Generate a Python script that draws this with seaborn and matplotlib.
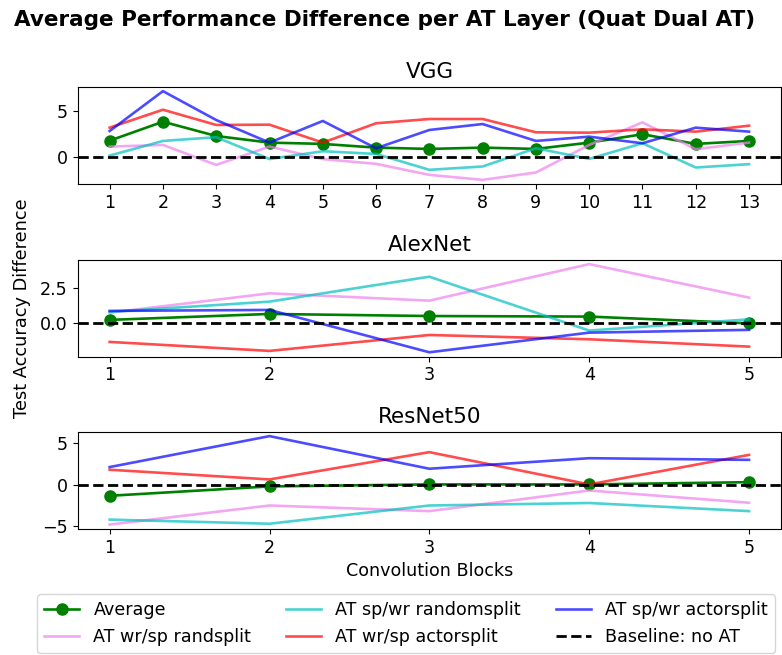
import matplotlib
matplotlib.use("Agg")
import matplotlib.pyplot as plt
import seaborn as sns
import pandas as pd

# Per-block accuracy differences against the no-AT baseline
vgg_blocks = list(range(1, 14))
vgg_average = [1.78, 3.82, 2.28, 1.57, 1.43, 1.03, 0.89, 1.03, 0.89, 1.57, 2.47, 1.43, 1.75]
vgg_wrsp_rand = [1.14, 1.32, -0.83, 1.14, -0.20, -0.72, -1.90, -2.44, -1.65, 1.32, 3.75, 0.86, 1.57]
vgg_spwr_rand = [0.17, 1.75, 2.15, -0.20, 0.64, 0.35, -1.36, -1.00, 0.96, -0.18, 1.50, -1.11, -0.75]
vgg_wrsp_actor = [3.18, 5.11, 3.47, 3.50, 1.57, 3.65, 4.11, 4.11, 2.68, 2.64, 3.00, 2.75, 3.39]
vgg_spwr_actor = [2.82, 7.11, 4.00, 1.57, 3.90, 0.96, 2.93, 3.57, 1.75, 2.21, 1.50, 3.18, 2.75]

alex_blocks = [1, 2, 3, 4, 5]
alex_average = [0.22, 0.65, 0.50, 0.46, -0.03]
alex_wrsp_rand = [0.74, 2.14, 1.61, 4.25, 1.83]
alex_spwr_rand = [0.80, 1.54, 3.34, -0.55, 0.26]
alex_wrsp_actor = [-1.37, -2.02, -0.87, -1.18, -1.71]
alex_spwr_actor = [0.87, 0.94, -2.12, -0.70, -0.50]

resnet_blocks = [1, 2, 3, 4, 5]
resnet_average = [-1.33, -0.20, 0.04, 0.04, 0.31]
resnet_wrsp_rand = [-4.80, -2.50, -3.18, -0.69, -2.17]
resnet_spwr_rand = [-4.20, -4.70, -2.50, -2.20, -3.18]
resnet_wrsp_actor = [1.81, 0.64, 3.93, 0.04, 3.60]
resnet_spwr_actor = [2.13, 5.86, 1.93, 3.20, 3.00]

model_names = ["VGG", "AlexNet", "ResNet50"]
series_labels = ["AT wr/sp randsplit", "AT sp/wr randomsplit",
                 "AT wr/sp actorsplit", "AT sp/wr actorsplit"]
series_colors = ["violet", "c", "red", "blue"]

models = [
    (vgg_blocks, vgg_average, [vgg_wrsp_rand, vgg_spwr_rand, vgg_wrsp_actor, vgg_spwr_actor]),
    (alex_blocks, alex_average, [alex_wrsp_rand, alex_spwr_rand, alex_wrsp_actor, alex_spwr_actor]),
    (resnet_blocks, resnet_average, [resnet_wrsp_rand, resnet_spwr_rand, resnet_wrsp_actor, resnet_spwr_actor]),
]

W, H = 782, 655
fig = plt.figure(figsize=(W / 100, H / 100), dpi=100)

# axes boxes in pixels: (top, bottom)
boxes = [(86.7, 184.3), (259.7, 356.7), (431.7, 529.0)]
left_px, right_px = 77.7, 781.0

axes = []
for (top, bottom) in boxes:
    ax = fig.add_axes([left_px / W, 1 - bottom / H,
                       (right_px - left_px) / W, (bottom - top) / H])
    axes.append(ax)

for ax, name, (blocks, avg, series) in zip(axes, model_names, models):
    df = pd.DataFrame({"block": blocks, "avg": avg})
    sns.lineplot(data=df, x="block", y="avg", ax=ax, color="green",
                 marker="o", markersize=8, markeredgecolor="green",
                 markeredgewidth=1, linewidth=1.9, label="Average")
    for vals, lab, col in zip(series, series_labels, series_colors):
        sdf = pd.DataFrame({"block": blocks, "val": vals})
        sns.lineplot(data=sdf, x="block", y="val", ax=ax, color=col,
                     alpha=0.7, linewidth=1.9, label=lab)
    ax.axhline(0, color="black", linestyle="--", linewidth=2,
               label="Baseline: no AT")
    ax.set_title(name, fontsize=15.5)
    ax.set_xticks(blocks)
    ax.tick_params(labelsize=12.6)
    ax.set_xlabel("")
    ax.set_ylabel("")
    ax.get_legend().remove()

axes[-1].set_xlabel("Convolution Blocks", fontsize=12.6)

fig.text(22 / W, 1 - 308 / H, "Test Accuracy Difference", rotation=90,
         ha="center", va="center", fontsize=12.8)

fig.suptitle("Average Performance Difference per AT Layer (Quat Dual AT)",
             fontsize=15.5, fontweight="bold", x=0.492, y=1 - 20 / H, va="center")

handles, labels = axes[0].get_legend_handles_labels()
fig.legend(handles, labels, ncol=3, fontsize=12.6, loc="lower center",
           bbox_to_anchor=(406 / W, 2 / H), borderaxespad=0, frameon=True)

fig.savefig("out.png", dpi=100)
